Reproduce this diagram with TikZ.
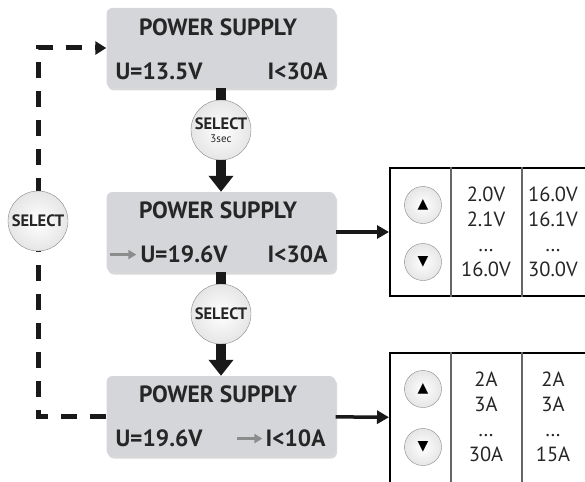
\documentclass[tikz,border=0pt]{standalone}
\usepackage{fontspec}
\setmainfont{PT Sans}
\newfontfamily\symfont{DejaVu Sans}
\usetikzlibrary{arrows.meta,shadows}

\definecolor{lcdfill}{RGB}{213,214,217}
\definecolor{btnedge}{RGB}{135,135,135}

\tikzstyle{lcd} = [
        fill=lcdfill, rounded corners=6pt, minimum width=229pt, minimum height=80pt,
        drop shadow={opacity=0.3, shadow xshift=1.5pt, shadow yshift=-2.5pt}
    ]
\tikzstyle{lcdtext} = [inner sep=0pt, font=\bfseries\fontsize{23.5}{23.5}\selectfont, text=black!85]
\tikzstyle{selbtn} = [
        circle, draw=btnedge, inner color=white, outer color=black!10, minimum size=60pt,
        inner sep=0pt, align=center, font=\bfseries\fontsize{16.5}{16.5}\selectfont, text=black!85
    ]
\tikzstyle{updown} = [
        circle, draw=btnedge, inner color=white, outer color=black!10, minimum size=37pt,
        inner sep=0pt, font=\symfont\fontsize{14}{14}\selectfont
    ]
\tikzstyle{panel} = [draw, line width=2pt, minimum width=196pt, inner sep=0pt]
\tikzstyle{divider} = [draw=black!60, line width=1.2pt]
\tikzstyle{vals} = [align=center, inner sep=0pt, anchor=north, font=\fontsize{20.5}{25}\selectfont, text=black!85]
\tikzstyle{stem} = [line width=10pt, black!90]
\tikzstyle{flow} = [stem, -{Triangle[width=24pt, length=16pt]}]
\tikzstyle{link} = [line width=3.5pt, black!90, -{Triangle[width=13pt, length=12pt]}]
\tikzstyle{pointer} = [line width=3pt, black!45, -{Triangle[width=9pt, length=8pt]}]
\tikzstyle{loopback} = [
        line width=5pt, black!90, dash pattern=on 16pt off 13pt,
        -{Triangle[width=13pt, length=11pt]}
    ]

\begin{document}
\begin{tikzpicture}[x=1pt, y=1pt]
        \useasboundingbox (0,0) rectangle (585,-481);
        % display states
        \node [lcd] (ps1) at (221,-48) {};
        \node [lcd, below of=ps1, node distance=184pt] (ps2) {};
        \node [lcd, below of=ps2, node distance=184pt] (ps3) {};
        \node [lcdtext, anchor=base] (ps1title) at ([xshift=-3pt, yshift=-28pt]ps1.north) {POWER SUPPLY};
        \node [lcdtext, anchor=base west] (ps1u) at ([xshift=9pt, yshift=-72pt]ps1.north west) {U=13.5V};
        \node [lcdtext, anchor=base east] (ps1i) at ([xshift=-8pt, yshift=-72pt]ps1.north east) {I<30A};
        \node [lcdtext, anchor=base] (ps2title) at ([xshift=-3pt, yshift=-27pt]ps2.north) {POWER SUPPLY};
        \node [lcdtext, anchor=base west] (ps2u) at ([xshift=34pt, yshift=-71pt]ps2.north west) {U=19.6V};
        \node [lcdtext, anchor=base east] (ps2i) at ([xshift=-8pt, yshift=-71pt]ps2.north east) {I<30A};
        \node [lcdtext, anchor=base] (ps3title) at ([xshift=-3pt, yshift=-27pt]ps3.north) {POWER SUPPLY};
        \node [lcdtext, anchor=base west] (ps3u) at ([xshift=9pt, yshift=-71pt]ps3.north west) {U=19.6V};
        \node [lcdtext, anchor=base east] (ps3i) at ([xshift=-10pt, yshift=-71pt]ps3.north east) {I<10A};
        \draw [pointer] ([xshift=-30pt]ps2u.west) -- ([xshift=-4pt]ps2u.west);
        \draw [pointer] ([xshift=-28pt]ps3i.west) -- ([xshift=-3pt]ps3i.west);

        % select buttons
        \node [selbtn, below of=ps1, node distance=82pt] (sel1)
            {SELECT\\[-3pt]{\mdseries\fontsize{11}{11}\selectfont 3sec}};
        \node [selbtn, below of=ps2, node distance=82pt] (sel2) {SELECT};
        \draw [stem] (ps1) -- (sel1);
        \draw [flow] (sel1) -- (ps2);
        \draw [stem] (ps2) -- (sel2);
        \draw [flow] (sel2) -- (ps3);

        % back to the first state
        \coordinate (bend) at (38,-221);
        \draw [loopback] (ps3.west) -| (bend) |- (ps1.west);
        \node [selbtn] (sel0) at (bend) {SELECT};

        % value tables
        \node [panel, minimum height=128pt] (volt) at (488,-232) {};
        \node [panel, minimum height=130pt] (amp) at (488,-418) {};
        \draw [divider] ([xshift=-37pt]volt.north) -- ([xshift=-37pt]volt.south);
        \draw [divider] ([xshift=34pt]volt.north) -- ([xshift=34pt]volt.south);
        \draw [divider] ([xshift=-37pt]amp.north) -- ([xshift=-37pt]amp.south);
        \draw [divider] ([xshift=34pt]amp.north) -- ([xshift=34pt]amp.south);
        \node [updown] (vup) at ([xshift=-65pt, yshift=-38pt]volt.north) {▲};
        \node [updown] (vdown) at ([xshift=-65pt, yshift=-95pt]volt.north) {▼};
        \node [updown] (aup) at ([xshift=-65pt, yshift=-37pt]amp.north) {▲};
        \node [updown] (adown) at ([xshift=-65pt, yshift=-95pt]amp.north) {▼};
        \node [vals] (vlow) at ([xshift=-2pt, yshift=-20pt]volt.north) {2.0V\\2.1V\\…\\16.0V};
        \node [vals] (vhigh) at ([xshift=65pt, yshift=-20pt]volt.north) {16.0V\\16.1V\\…\\30.0V};
        \node [vals] (alow) at ([xshift=-2pt, yshift=-20pt]amp.north) {2A\\3A\\…\\30A};
        \node [vals] (ahigh) at ([xshift=65pt, yshift=-20pt]amp.north) {2A\\3A\\…\\15A};
        \draw [link] (ps2) -- (volt);
        \draw [link] (ps3) -- (amp);
    \end{tikzpicture}
\end{document}
